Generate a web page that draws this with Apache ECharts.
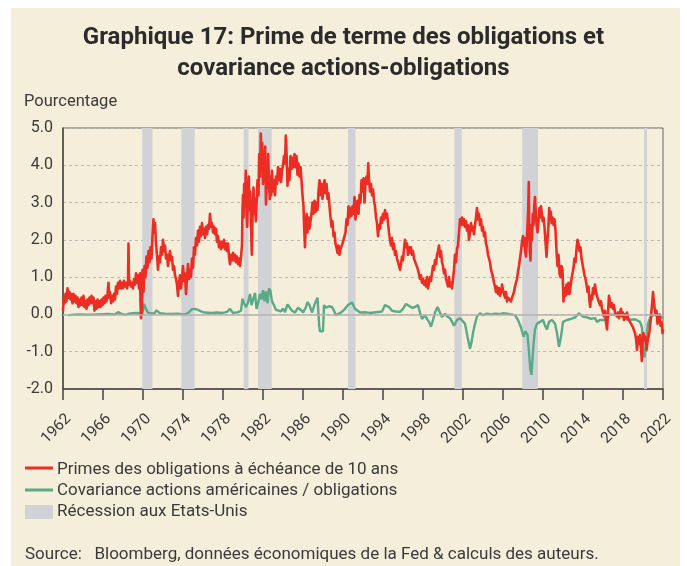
<!DOCTYPE html>
<html>
<head>
<meta charset="utf-8">
<script src="https://cdn.jsdelivr.net/npm/echarts@6/dist/echarts.min.js"></script>
<style>
  html, body { margin: 0; padding: 0; background: #fff; }
  #chart { width: 687px; height: 566px; }
</style>
</head>
<body>
<div id="chart"></div>
<script>
  // prime de terme 10 ans, [année, %]
  const primeSeries = [
    [1962.00,0.10],[1962.08,0.45],[1962.17,0.30],[1962.25,0.55],[1962.35,0.35],[1962.45,0.70],[1962.55,0.45],[1962.65,0.60],[1962.75,0.40],[1962.85,0.55],[1962.95,0.30],
    [1963.05,0.55],[1963.15,0.35],[1963.25,0.50],[1963.35,0.30],[1963.45,0.45],[1963.55,0.20],[1963.65,0.40],[1963.75,0.25],[1963.85,0.45],[1963.95,0.25],
    [1964.05,0.50],[1964.15,0.20],[1964.25,0.35],[1964.35,0.15],[1964.45,0.40],[1964.55,0.25],[1964.65,0.45],[1964.75,0.30],[1964.85,0.50],[1964.95,0.30],
    [1965.05,0.45],[1965.15,0.10],[1965.25,0.35],[1965.35,0.15],[1965.45,0.40],[1965.55,0.20],[1965.65,0.35],[1965.75,0.20],[1965.85,0.40],[1965.95,0.25],
    [1966.05,0.45],[1966.15,0.30],[1966.25,0.50],[1966.35,0.35],[1966.45,0.55],[1966.55,0.85],[1966.62,0.45],[1966.70,0.60],[1966.80,0.30],[1966.90,0.50],
    [1967.00,0.35],[1967.10,0.55],[1967.20,0.40],[1967.30,0.75],[1967.40,0.55],[1967.50,0.85],[1967.60,0.70],[1967.70,0.90],[1967.80,0.70],[1967.90,0.85],
    [1968.00,0.70],[1968.10,0.90],[1968.20,0.75],[1968.30,0.85],[1968.40,0.70],[1968.50,0.85],[1968.55,1.90],[1968.60,0.80],[1968.70,0.90],[1968.80,0.75],[1968.90,0.85],
    [1969.00,0.70],[1969.10,0.95],[1969.20,0.80],[1969.30,1.10],[1969.40,0.85],[1969.50,1.05],[1969.60,0.70],[1969.70,1.10],[1969.75,0.30],[1969.80,-0.10],[1969.85,0.90],[1969.90,0.00],[1969.95,1.20],
    [1970.05,0.60],[1970.15,1.30],[1970.25,1.00],[1970.35,1.55],[1970.45,1.25],[1970.55,1.70],[1970.65,1.40],[1970.75,1.80],[1970.85,1.50],[1970.95,2.10],
    [1971.05,2.55],[1971.12,2.20],[1971.20,2.45],[1971.30,1.90],[1971.40,1.60],[1971.50,1.20],[1971.60,1.55],[1971.70,1.40],[1971.80,1.80],[1971.90,1.60],
    [1972.00,2.00],[1972.10,1.70],[1972.20,1.85],[1972.30,1.50],[1972.40,1.60],[1972.50,1.30],[1972.60,1.55],[1972.70,1.70],[1972.80,1.45],[1972.90,1.55],
    [1973.00,1.20],[1973.10,1.30],[1973.20,1.05],[1973.30,0.95],[1973.40,0.80],[1973.50,0.50],[1973.60,0.85],[1973.70,1.05],[1973.80,0.70],[1973.90,0.95],
    [1974.00,1.30],[1974.10,0.90],[1974.20,1.10],[1974.30,0.55],[1974.40,1.00],[1974.50,1.35],[1974.60,0.95],[1974.70,1.20],[1974.80,1.00],[1974.90,1.50],
    [1975.00,1.25],[1975.10,1.80],[1975.20,1.60],[1975.30,2.05],[1975.40,1.85],[1975.50,2.25],[1975.60,1.95],[1975.70,2.35],[1975.80,2.10],[1975.90,2.45],
    [1976.00,2.15],[1976.10,2.30],[1976.20,2.05],[1976.30,2.35],[1976.40,2.15],[1976.50,2.40],[1976.60,2.30],[1976.70,2.70],[1976.80,2.35],[1976.90,2.45],
    [1977.00,2.20],[1977.10,2.35],[1977.20,2.15],[1977.30,2.30],[1977.40,1.95],[1977.50,2.10],[1977.60,1.80],[1977.70,1.95],[1977.80,1.75],[1977.90,1.95],
    [1978.00,1.80],[1978.10,2.00],[1978.20,1.75],[1978.30,1.90],[1978.40,1.70],[1978.50,1.90],[1978.60,1.55],[1978.70,1.35],[1978.80,1.60],[1978.90,1.45],
    [1979.00,1.65],[1979.10,1.45],[1979.20,1.60],[1979.30,1.40],[1979.40,1.55],[1979.50,1.35],[1979.60,1.50],[1979.70,1.30],[1979.80,1.55],[1979.90,1.85],[1979.95,2.80],
    [1980.00,3.20],[1980.05,2.60],[1980.12,3.50],[1980.20,2.90],[1980.28,3.85],[1980.35,2.70],[1980.42,2.35],[1980.50,3.20],[1980.58,3.70],[1980.65,2.80],[1980.72,3.30],[1980.80,2.40],[1980.88,1.60],[1980.95,2.60],
    [1981.05,3.40],[1981.12,2.70],[1981.20,3.10],[1981.28,2.50],[1981.35,2.90],[1981.45,3.60],[1981.55,3.20],[1981.62,4.30],[1981.70,3.70],[1981.78,4.85],[1981.85,4.00],[1981.92,4.60],
    [1982.00,3.50],[1982.08,4.20],[1982.15,3.60],[1982.22,4.50],[1982.30,2.95],[1982.38,3.80],[1982.45,3.40],[1982.52,4.30],[1982.60,3.50],[1982.68,3.10],[1982.75,3.70],[1982.82,3.20],[1982.90,3.85],
    [1983.00,3.30],[1983.10,3.60],[1983.20,3.20],[1983.30,3.70],[1983.40,3.50],[1983.50,3.95],[1983.60,3.60],[1983.70,3.90],[1983.80,3.55],[1983.90,3.85],
    [1984.00,4.00],[1984.10,4.25],[1984.20,4.05],[1984.28,4.80],[1984.36,4.30],[1984.45,3.45],[1984.55,3.90],[1984.65,3.60],[1984.75,4.25],[1984.85,3.90],[1984.95,4.20],
    [1985.05,3.95],[1985.15,4.30],[1985.25,3.95],[1985.35,4.25],[1985.45,3.75],[1985.55,4.05],[1985.65,3.70],[1985.75,3.95],[1985.85,3.60],[1985.95,3.20],
    [1986.05,2.90],[1986.12,2.30],[1986.20,1.80],[1986.28,2.40],[1986.36,2.70],[1986.45,2.20],[1986.55,2.60],[1986.65,2.30],[1986.75,2.50],[1986.85,2.70],[1986.95,3.00],
    [1987.05,2.70],[1987.15,3.05],[1987.25,2.75],[1987.35,3.00],[1987.45,2.80],[1987.55,3.30],[1987.65,3.60],[1987.75,3.20],[1987.85,3.50],[1987.95,3.10],
    [1988.05,3.40],[1988.15,3.60],[1988.25,3.25],[1988.35,3.50],[1988.45,3.10],[1988.55,3.25],[1988.65,2.90],[1988.75,2.60],[1988.85,2.35],[1988.95,2.50],
    [1989.05,2.10],[1989.15,2.20],[1989.25,1.90],[1989.35,1.80],[1989.45,1.65],[1989.55,1.85],[1989.65,1.60],[1989.75,1.75],[1989.85,1.70],[1989.95,1.90],
    [1990.05,1.85],[1990.15,2.10],[1990.25,2.20],[1990.35,2.55],[1990.45,2.40],[1990.55,2.90],[1990.65,2.60],[1990.75,2.85],[1990.85,2.65],[1990.95,2.90],
    [1991.05,2.70],[1991.15,3.15],[1991.25,2.55],[1991.35,2.95],[1991.45,3.05],[1991.55,2.70],[1991.65,3.20],[1991.75,3.00],[1991.85,3.60],[1991.95,3.30],
    [1992.05,3.65],[1992.15,3.00],[1992.25,3.55],[1992.35,3.70],[1992.45,3.50],[1992.52,4.05],[1992.60,3.60],[1992.70,3.30],[1992.80,3.50],[1992.90,3.20],
    [1993.00,3.35],[1993.10,3.05],[1993.20,2.90],[1993.30,2.60],[1993.40,2.45],[1993.50,2.10],[1993.60,2.40],[1993.70,2.30],[1993.80,2.60],[1993.90,2.45],
    [1994.00,2.70],[1994.10,2.55],[1994.20,2.80],[1994.30,2.60],[1994.40,2.70],[1994.50,2.45],[1994.60,2.20],[1994.70,2.00],[1994.80,1.85],[1994.90,2.05],
    [1995.00,1.75],[1995.10,1.90],[1995.20,1.60],[1995.30,1.70],[1995.40,1.50],[1995.50,1.40],[1995.60,1.30],[1995.70,1.20],[1995.80,1.35],[1995.90,1.55],
    [1996.00,1.45],[1996.10,1.75],[1996.20,2.00],[1996.30,1.80],[1996.40,1.90],[1996.50,1.60],[1996.60,1.80],[1996.70,1.65],[1996.80,1.80],[1996.90,1.60],
    [1997.00,1.70],[1997.10,1.50],[1997.20,1.55],[1997.30,1.35],[1997.40,1.40],[1997.50,1.20],[1997.60,1.15],[1997.70,0.95],[1997.80,1.05],[1997.90,0.85],
    [1998.00,0.95],[1998.10,0.80],[1998.20,0.90],[1998.30,0.75],[1998.40,1.00],[1998.50,0.70],[1998.60,0.85],[1998.70,1.00],[1998.80,0.90],[1998.90,1.10],
    [1999.00,1.30],[1999.10,1.20],[1999.20,1.45],[1999.30,1.35],[1999.40,1.60],[1999.50,1.70],[1999.60,1.85],[1999.70,1.55],[1999.80,1.70],[1999.90,1.40],
    [2000.00,1.30],[2000.10,1.10],[2000.20,1.20],[2000.30,0.95],[2000.40,0.90],[2000.50,0.75],[2000.60,1.00],[2000.70,0.75],[2000.80,0.85],[2000.90,0.70],
    [2001.00,0.95],[2001.10,1.20],[2001.20,1.60],[2001.30,1.40],[2001.40,1.75],[2001.50,1.85],[2001.60,2.20],[2001.70,2.55],[2001.80,2.40],[2001.90,2.60],
    [2002.00,2.40],[2002.10,2.55],[2002.20,2.35],[2002.30,2.50],[2002.40,2.25],[2002.50,2.40],[2002.60,2.00],[2002.70,2.20],[2002.80,2.45],[2002.90,2.25],
    [2003.00,2.35],[2003.10,2.15],[2003.20,2.40],[2003.30,2.60],[2003.40,2.85],[2003.50,2.55],[2003.60,2.70],[2003.70,2.40],[2003.80,2.55],[2003.90,2.25],
    [2004.00,2.35],[2004.10,2.10],[2004.20,2.20],[2004.30,1.90],[2004.40,1.80],[2004.50,1.60],[2004.60,1.50],[2004.70,1.40],[2004.80,1.20],[2004.90,1.10],
    [2005.00,1.00],[2005.10,0.85],[2005.20,0.75],[2005.30,0.60],[2005.40,0.75],[2005.50,0.55],[2005.60,0.70],[2005.70,0.50],[2005.80,0.60],[2005.90,0.80],
    [2006.00,0.65],[2006.10,0.55],[2006.20,0.45],[2006.30,0.60],[2006.40,0.35],[2006.50,0.45],[2006.60,0.40],[2006.70,0.50],[2006.80,0.35],[2006.90,0.45],
    [2007.00,0.50],[2007.10,0.60],[2007.20,0.75],[2007.30,0.85],[2007.40,0.95],[2007.50,1.15],[2007.60,1.30],[2007.70,1.50],[2007.80,1.70],[2007.90,1.95],
    [2008.00,2.10],[2008.08,1.85],[2008.15,2.05],[2008.22,1.70],[2008.30,1.55],[2008.38,1.95],[2008.45,2.40],[2008.52,2.80],[2008.58,3.55],[2008.62,2.40],[2008.68,1.70],[2008.75,1.45],[2008.82,2.40],[2008.90,2.00],[2008.98,2.70],
    [2009.05,2.40],[2009.12,2.90],[2009.20,3.15],[2009.28,2.70],[2009.36,2.40],[2009.45,2.20],[2009.55,2.50],[2009.65,2.85],[2009.72,2.60],[2009.80,2.90],[2009.88,2.70],[2009.96,2.50],
    [2010.05,2.60],[2010.15,2.35],[2010.25,1.95],[2010.35,1.55],[2010.45,2.00],[2010.55,2.40],[2010.62,2.85],[2010.70,2.55],[2010.78,2.75],[2010.86,2.45],[2010.95,2.60],
    [2011.05,2.40],[2011.15,2.55],[2011.25,2.25],[2011.35,1.70],[2011.45,1.30],[2011.55,1.60],[2011.65,1.10],[2011.75,1.00],[2011.85,1.30],[2011.95,1.20],
    [2012.05,0.35],[2012.15,0.70],[2012.25,0.50],[2012.35,0.80],[2012.45,0.55],[2012.55,0.85],[2012.65,0.55],[2012.75,0.75],[2012.85,0.95],[2012.95,1.00],
    [2013.05,1.25],[2013.15,1.50],[2013.25,1.40],[2013.35,1.75],[2013.45,2.00],[2013.55,1.90],[2013.65,1.70],[2013.75,1.80],[2013.85,1.50],[2013.95,1.35],
    [2014.05,1.20],[2014.15,1.05],[2014.25,0.95],[2014.35,0.80],[2014.45,0.60],[2014.55,0.75],[2014.65,0.35],[2014.72,0.20],[2014.80,0.50],[2014.90,0.40],
    [2015.00,0.70],[2015.10,0.55],[2015.20,0.80],[2015.30,0.60],[2015.40,0.55],[2015.50,0.40],[2015.60,0.45],[2015.70,0.25],[2015.80,0.35],[2015.90,0.15],
    [2016.00,0.20],[2016.10,-0.05],[2016.20,0.10],[2016.30,-0.20],[2016.40,-0.40],[2016.50,0.05],[2016.60,0.50],[2016.70,0.35],[2016.80,0.20],[2016.90,0.30],
    [2017.00,0.15],[2017.10,0.25],[2017.20,0.05],[2017.30,0.10],[2017.40,-0.05],[2017.50,0.05],[2017.60,-0.10],[2017.70,0.05],[2017.80,0.15],[2017.90,-0.05],
    [2018.00,0.05],[2018.10,-0.15],[2018.20,0.00],[2018.30,-0.10],[2018.40,0.05],[2018.50,-0.10],[2018.60,-0.05],[2018.70,-0.15],[2018.80,-0.25],[2018.90,-0.20],
    [2019.00,-0.35],[2019.10,-0.30],[2019.20,-0.50],[2019.30,-0.65],[2019.40,-0.95],[2019.50,-0.60],[2019.60,-0.80],[2019.70,-0.55],[2019.80,-0.90],[2019.88,-1.25],[2019.95,-0.75],
    [2020.05,-0.50],[2020.15,-0.70],[2020.25,-0.60],[2020.35,-0.95],[2020.45,-0.75],[2020.55,-0.60],[2020.65,-0.45],[2020.75,-0.20],[2020.85,0.10],[2020.92,0.30],
    [2021.00,0.60],[2021.07,0.40],[2021.15,0.20],[2021.25,0.00],[2021.35,0.10],[2021.45,-0.25],[2021.55,-0.10],[2021.65,0.00],[2021.75,-0.30],[2021.85,-0.20],[2021.95,-0.50],[2022.00,-0.40]
  ]

  // covariance actions / obligations
  const covSeries = [
    [1962.50,-0.02],[1963.50,0.00],[1964.50,-0.01],[1965.50,0.00],[1966.50,0.01],[1967.20,0.00],[1967.50,0.06],[1967.80,0.02],
    [1968.20,-0.01],[1968.60,0.02],[1969.00,0.03],[1969.50,0.04],[1969.80,0.02],[1970.00,0.10],[1970.10,0.28],[1970.25,0.26],
    [1970.35,0.12],[1970.50,0.05],[1970.80,0.03],[1971.10,0.02],[1971.35,0.11],[1971.55,0.10],[1971.70,0.03],[1972.20,0.02],
    [1972.80,0.01],[1973.50,0.02],[1974.00,0.00],[1974.30,0.01],[1974.60,0.06],[1974.90,0.14],[1975.20,0.15],[1975.50,0.12],
    [1975.80,0.08],[1976.20,0.05],[1976.80,0.04],[1977.40,0.05],[1978.00,0.04],[1978.40,0.07],[1978.70,0.15],[1979.00,0.04],
    [1979.50,0.06],[1979.80,0.10],[1979.95,0.42],[1980.10,0.30],[1980.30,0.20],[1980.50,0.32],[1980.70,0.55],[1980.85,0.25],
    [1981.00,0.30],[1981.20,0.58],[1981.35,0.15],[1981.50,0.30],[1981.70,0.55],[1981.85,0.40],[1982.00,0.65],[1982.15,0.35],
    [1982.30,0.62],[1982.45,0.30],[1982.60,0.70],[1982.75,0.62],[1982.90,0.35],[1983.10,0.25],[1983.30,0.12],[1983.50,0.15],
    [1983.80,0.08],[1984.00,0.16],[1984.20,0.06],[1984.45,0.27],[1984.65,0.25],[1984.90,0.10],[1985.20,0.05],[1985.50,0.18],
    [1985.80,0.12],[1986.00,0.05],[1986.30,0.20],[1986.45,0.33],[1986.65,0.25],[1986.90,0.05],[1987.20,0.30],[1987.45,0.45],
    [1987.55,0.48],[1987.62,-0.30],[1987.70,-0.45],[1987.85,-0.40],[1988.00,-0.45],[1988.10,0.25],[1988.30,0.18],[1988.60,0.22],
    [1988.90,0.20],[1989.10,0.10],[1989.30,-0.02],[1989.50,0.00],[1989.80,0.05],[1990.20,0.15],[1990.50,0.25],[1990.90,0.32],
    [1991.20,0.15],[1991.70,0.05],[1992.20,0.06],[1992.70,0.04],[1993.30,0.06],[1993.90,0.08],[1994.20,0.25],[1994.40,0.30],
    [1994.60,0.20],[1994.90,0.10],[1995.30,0.08],[1995.70,0.07],[1996.00,0.15],[1996.30,0.28],[1996.50,0.25],[1996.90,0.18],
    [1997.20,0.20],[1997.50,0.25],[1997.70,0.05],[1997.90,-0.12],[1998.00,-0.15],[1998.20,-0.02],[1998.40,-0.12],[1998.60,-0.20],
    [1998.80,-0.33],[1999.00,-0.15],[1999.20,0.05],[1999.45,0.20],[1999.60,0.15],[1999.90,-0.07],[2000.20,0.02],[2000.40,-0.05],
    [2000.70,-0.10],[2000.90,-0.20],[2001.10,-0.30],[2001.40,-0.15],[2001.70,-0.10],[2001.90,-0.07],[2002.20,-0.25],[2002.45,-0.60],
    [2002.70,-0.92],[2002.85,-0.75],[2003.00,-0.50],[2003.20,-0.25],[2003.40,-0.05],[2003.70,0.03],[2004.00,-0.02],[2004.40,0.02],
    [2004.80,0.00],[2005.20,0.02],[2005.60,0.01],[2006.00,0.03],[2006.40,0.02],[2006.80,0.00],[2007.20,-0.02],[2007.50,-0.15],
    [2007.80,-0.35],[2008.05,-0.60],[2008.25,-0.45],[2008.45,-0.55],[2008.60,-1.00],[2008.72,-1.45],[2008.85,-1.62],[2008.95,-1.20],
    [2009.05,-0.80],[2009.20,-0.40],[2009.40,-0.25],[2009.70,-0.20],[2010.00,-0.15],[2010.20,-0.30],[2010.40,-0.40],[2010.60,-0.20],
    [2010.90,-0.15],[2011.20,-0.25],[2011.40,-0.50],[2011.60,-0.87],[2011.80,-0.60],[2012.00,-0.20],[2012.40,-0.15],[2012.80,-0.12],
    [2013.20,-0.08],[2013.60,0.03],[2014.00,-0.06],[2014.40,-0.08],[2014.80,-0.12],[2015.20,-0.10],[2015.40,-0.20],[2015.70,-0.15],
    [2016.20,-0.15],[2016.70,0.00],[2017.40,-0.02],[2018.00,-0.06],[2018.50,-0.15],[2019.20,-0.13],[2019.70,-0.20],[2019.90,-0.35],
    [2020.00,-1.05],[2020.15,-1.15],[2020.35,-0.60],[2020.50,-0.25],[2020.70,-0.10],[2021.00,-0.02],[2021.40,-0.02],[2021.70,-0.06],[2022.00,-0.10]
  ]

  // récessions NBER (début / fin, en années décimales)
  const recessionStart = [1969.93, 1973.83, 1980.08, 1981.50, 1990.50, 2001.15, 2007.92, 2020.10]
  const recessionEnd = [1970.95, 1975.17, 1980.55, 1982.87, 1991.25, 2001.88, 2009.50, 2020.40]

  const legendNames = [
    'Primes des obligations à échéance de 10 ans',
    'Covariance actions américaines / obligations',
    'Récession aux Etats-Unis'
  ]

  const RED = '#ec2d24'
  const GREEN = '#5aa987'
  const GREY = '#d1d2d6'
  const TXT = '#3a3a3a'
  const FONT = 'Roboto'

  const chart = echarts.init(document.getElementById('chart'))

  const recessionAreas = recessionStart.map((s, i) => [{ xAxis: s }, { xAxis: recessionEnd[i] }])

  chart.setOption({
    animation: false,
    backgroundColor: 'transparent',
    textStyle: { fontFamily: FONT },
    title: {
      text: 'Graphique 17: Prime de terme des obligations et\ncovariance actions-obligations',
      left: 'center',
      top: 17,
      textStyle: { fontSize: 24, fontWeight: 'bold', color: '#2b2b2b', lineHeight: 31, fontFamily: FONT }
    },
    grid: {
      left: 63, right: 24, top: 128, bottom: 177,
      show: true, borderColor: '#666', borderWidth: 1, backgroundColor: 'transparent'
    },
    graphic: [
      { type: 'rect', z: -100, silent: true, shape: { x: 11, y: 8, width: 669, height: 558 }, style: { fill: '#f5eedb' } },
      { type: 'text', left: 24, top: 93, style: { text: 'Pourcentage', fontSize: 16.5, fill: TXT, fontFamily: FONT } },
      // légende
      { type: 'line', shape: { x1: 25, y1: 468, x2: 53, y2: 468 }, style: { stroke: RED, lineWidth: 3 } },
      { type: 'text', left: 57, top: 461, style: { text: legendNames[0], fontSize: 17, fill: TXT, fontFamily: FONT } },
      { type: 'line', shape: { x1: 25, y1: 490, x2: 53, y2: 490 }, style: { stroke: GREEN, lineWidth: 3 } },
      { type: 'text', left: 57, top: 482, style: { text: legendNames[1], fontSize: 17, fill: TXT, fontFamily: FONT } },
      { type: 'rect', shape: { x: 25, y: 505, width: 28, height: 14 }, style: { fill: GREY } },
      { type: 'text', left: 57, top: 503, style: { text: legendNames[2], fontSize: 17, fill: TXT, fontFamily: FONT } },
      { type: 'text', left: 25, top: 546, style: { text: 'Source:   Bloomberg, données économiques de la Fed & calculs des auteurs.', fontSize: 17, fill: TXT, fontFamily: FONT } }
    ],
    xAxis: {
      type: 'value',
      min: 1962, max: 2022, interval: 4,
      axisLine: { show: true, onZero: false, lineStyle: { color: '#444', width: 1.5 } },
      axisTick: { show: true, length: 11, lineStyle: { color: '#444', width: 1.5 } },
      axisLabel: { rotate: 45, fontSize: 15.5, color: TXT, margin: 22, verticalAlign: 'top', formatter: v => String(v) },
      splitLine: { show: false }
    },
    yAxis: {
      type: 'value',
      min: -2, max: 5, interval: 1,
      axisLine: { show: true, lineStyle: { color: '#444', width: 1.5 } },
      axisTick: { show: false },
      axisLabel: { fontSize: 16, color: TXT, margin: 10, formatter: v => v.toFixed(1) },
      splitLine: { show: true, lineStyle: { color: '#bdbab4', type: [3, 3], width: 1 } }
    },
    series: [
      {
        name: legendNames[2],
        type: 'line',
        data: [],
        z: 1,
        silent: true,
        markArea: { silent: true, itemStyle: { color: GREY }, data: recessionAreas },
        markLine: {
          silent: true, symbol: 'none', label: { show: false },
          lineStyle: { color: '#b4b3b0', type: 'solid', width: 1.5 },
          data: [{ yAxis: 0 }]
        }
      },
      {
        name: legendNames[1],
        type: 'line',
        data: covSeries,
        z: 3,
        showSymbol: false,
        lineStyle: { color: GREEN, width: 2.4 }
      },
      {
        name: legendNames[0],
        type: 'line',
        data: primeSeries,
        z: 4,
        showSymbol: false,
        lineStyle: { color: RED, width: 2.6, join: 'round' }
      }
    ]
  })
</script>
</body>
</html>
